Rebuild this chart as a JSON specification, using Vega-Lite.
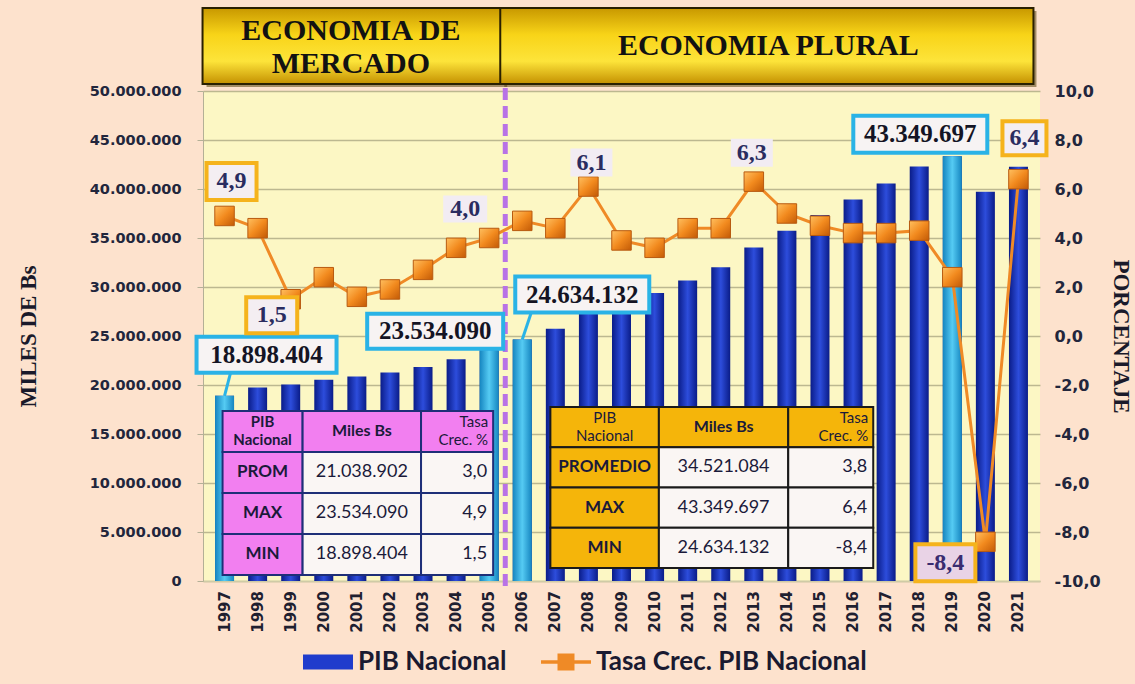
{
  "$schema": "https://vega.github.io/schema/vega-lite/v6.json",
  "width": 837,
  "height": 490,
  "autosize": {"type": "none"},
  "padding": {"left": 203, "top": 91, "right": 95, "bottom": 103},
  "background": "#fde2cd",
  "config": {
    "locale": {"number": {"decimal": ",", "thousands": ".", "grouping": [3], "currency": ["", ""], "minus": "-"}},
    "view": {"fill": "#fcf7c4", "stroke": null},
    "axis": {"labelFont": "DejaVu Sans", "labelFontWeight": "bold", "labelColor": "#22263c", "titleFont": "Liberation Serif", "titleFontWeight": "bold", "titleColor": "#1a1a2a"}
  },
  "datasets": {
    "pib": [
      {"anio": 1997, "periodo": "Economía de Mercado", "pib": 18898404, "tasa": 4.9},
      {"anio": 1998, "periodo": "Economía de Mercado", "pib": 19745210, "tasa": 4.4},
      {"anio": 1999, "periodo": "Economía de Mercado", "pib": 20047830, "tasa": 1.5},
      {"anio": 2000, "periodo": "Economía de Mercado", "pib": 20534150, "tasa": 2.4},
      {"anio": 2001, "periodo": "Economía de Mercado", "pib": 20866320, "tasa": 1.6},
      {"anio": 2002, "periodo": "Economía de Mercado", "pib": 21263480, "tasa": 1.9},
      {"anio": 2003, "periodo": "Economía de Mercado", "pib": 21840650, "tasa": 2.7},
      {"anio": 2004, "periodo": "Economía de Mercado", "pib": 22621530, "tasa": 3.6},
      {"anio": 2005, "periodo": "Economía de Mercado", "pib": 23534090, "tasa": 4.0},
      {"anio": 2006, "periodo": "Economía Plural", "pib": 24634132, "tasa": 4.7},
      {"anio": 2007, "periodo": "Economía Plural", "pib": 25728040, "tasa": 4.4},
      {"anio": 2008, "periodo": "Economía Plural", "pib": 27296840, "tasa": 6.1},
      {"anio": 2009, "periodo": "Economía Plural", "pib": 28361030, "tasa": 3.9},
      {"anio": 2010, "periodo": "Economía Plural", "pib": 29381650, "tasa": 3.6},
      {"anio": 2011, "periodo": "Economía Plural", "pib": 30674000, "tasa": 4.4},
      {"anio": 2012, "periodo": "Economía Plural", "pib": 32023220, "tasa": 4.4},
      {"anio": 2013, "periodo": "Economía Plural", "pib": 34040050, "tasa": 6.3},
      {"anio": 2014, "periodo": "Economía Plural", "pib": 35741560, "tasa": 5.0},
      {"anio": 2015, "periodo": "Economía Plural", "pib": 37349480, "tasa": 4.5},
      {"anio": 2016, "periodo": "Economía Plural", "pib": 38917740, "tasa": 4.2},
      {"anio": 2017, "periodo": "Economía Plural", "pib": 40551870, "tasa": 4.2},
      {"anio": 2018, "periodo": "Economía Plural", "pib": 42295170, "tasa": 4.3},
      {"anio": 2019, "periodo": "Economía Plural", "pib": 43349697, "tasa": 2.4},
      {"anio": 2020, "periodo": "Economía Plural", "pib": 39717320, "tasa": -8.4},
      {"anio": 2021, "periodo": "Economía Plural", "pib": 42258590, "tasa": 6.4}
    ],
    "periodos": [
      {"titulo": ["ECONOMIA DE", "MERCADO"], "desde": 1997, "hasta": 2005},
      {"titulo": "ECONOMIA PLURAL", "desde": 2006, "hasta": 2021}
    ],
    "mercado": [
      {"fila": "h", "c1": ["PIB", "Nacional"], "c2": "Miles Bs", "c3": ["Tasa", "Crec. %"]},
      {"fila": "PROM", "c1": "PROM", "c2": "21.038.902", "c3": "3,0"},
      {"fila": "MAX", "c1": "MAX", "c2": "23.534.090", "c3": "4,9"},
      {"fila": "MIN", "c1": "MIN", "c2": "18.898.404", "c3": "1,5"}
    ],
    "plural": [
      {"fila": "h", "c1": ["PIB", "Nacional"], "c2": "Miles Bs", "c3": ["Tasa", "Crec. %"]},
      {"fila": "PROMEDIO", "c1": "PROMEDIO", "c2": "34.521.084", "c3": "3,8"},
      {"fila": "MAX", "c1": "MAX", "c2": "43.349.697", "c3": "6,4"},
      {"fila": "MIN", "c1": "MIN", "c2": "24.634.132", "c3": "-8,4"}
    ]
  },
  "layer": [
    {
      "data": {"name": "pib"},
      "layer": [
        {
          "mark": {"type": "bar", "orient": "vertical", "width": 19,
            "fill": {"gradient": "linear", "x1": 0, "y1": 0, "x2": 1, "y2": 0, "stops": [{"offset": 0, "color": "#0a1c88"}, {"offset": 0.5, "color": "#2d4ddc"}, {"offset": 1, "color": "#0a1c88"}]}},
          "encoding": {
            "x": {"field": "anio", "type": "quantitative", "scale": {"domain": [1996.5, 2021.5], "nice": false, "zero": false},
              "axis": {"values": [1997,1998,1999,2000,2001,2002,2003,2004,2005,2006,2007,2008,2009,2010,2011,2012,2013,2014,2015,2016,2017,2018,2019,2020,2021], "labels": false, "title": null, "grid": false, "ticks": false, "domainColor": "#cfcba6", "domainWidth": 1.5}},
            "y": {"field": "pib", "type": "quantitative", "scale": {"domain": [0, 50000000], "nice": false},
              "axis": {"title": "MILES DE Bs", "format": ",.0f", "values": [0,5000000,10000000,15000000,20000000,25000000,30000000,35000000,40000000,45000000,50000000], "grid": true, "gridColor": "#bcb890", "gridWidth": 1.5, "ticks": true, "tickSize": 6, "tickColor": "#b4b096", "domain": true, "domainColor": "#b4b096", "labelPadding": 16, "labelFontSize": 14.5, "titleFontSize": 23, "titleX": -175, "titleBaseline": "middle"}}
          }
        },
        {
          "mark": {"type": "text", "angle": 270, "align": "right", "baseline": "middle", "yOffset": 10, "font": "DejaVu Sans", "fontWeight": "bold", "fontSize": 15, "color": "#1f2030"},
          "encoding": {
            "x": {"field": "anio", "type": "quantitative"},
            "y": {"datum": 0, "type": "quantitative"},
            "text": {"field": "anio", "type": "quantitative", "format": "d"}
          }
        },
        {
          "transform": [
            {"joinaggregate": [{"op": "max", "field": "pib", "as": "pmax"}, {"op": "min", "field": "pib", "as": "pmin"}], "groupby": ["periodo"]},
            {"filter": "datum.pib === datum.pmax || datum.pib === datum.pmin"}
          ],
          "mark": {"type": "bar", "orient": "vertical", "width": 19,
            "fill": {"gradient": "linear", "x1": 0, "y1": 0, "x2": 1, "y2": 0, "stops": [{"offset": 0, "color": "#1585c0"}, {"offset": 0.5, "color": "#55cbf3"}, {"offset": 1, "color": "#1585c0"}]}},
          "encoding": {
            "x": {"field": "anio", "type": "quantitative"},
            "y": {"field": "pib", "type": "quantitative"}
          }
        },
        {
          "data": {"name": "periodos"},
          "transform": [{"filter": "datum.desde === 2006"}],
          "mark": {"type": "rule", "color": "#b872e6", "strokeWidth": 5, "strokeDash": [12, 6], "xOffset": -17},
          "encoding": {
            "x": {"field": "desde", "type": "quantitative"},
            "y": {"datum": 50300000, "type": "quantitative"},
            "y2": {"datum": -600000}
          }
        },
        {
          "data": {"name": "periodos"},
          "mark": {"type": "rect", "xOffset": -18, "x2Offset": 18, "yOffset": 3, "y2Offset": 3, "fill": "#5a4610", "opacity": 0.55},
          "encoding": {
            "x": {"field": "desde", "type": "quantitative"},
            "x2": {"field": "hasta"},
            "y": {"datum": 50710000, "type": "quantitative"},
            "y2": {"datum": 58470000}
          }
        },
        {
          "data": {"name": "periodos"},
          "mark": {"type": "rect", "xOffset": -22, "x2Offset": 15, "stroke": "#2a2000", "strokeWidth": 2,
            "fill": {"gradient": "linear", "x1": 0, "y1": 0, "x2": 0, "y2": 1, "stops": [{"offset": 0, "color": "#c89800"}, {"offset": 0.35, "color": "#f8d418"}, {"offset": 0.7, "color": "#fde43a"}, {"offset": 1, "color": "#c49000"}]}},
          "encoding": {
            "x": {"field": "desde", "type": "quantitative"},
            "x2": {"field": "hasta"},
            "y": {"datum": 50710000, "type": "quantitative"},
            "y2": {"datum": 58470000}
          }
        },
        {
          "data": {"name": "periodos"},
          "transform": [{"calculate": "(datum.desde + datum.hasta) / 2", "as": "centro"}, {"filter": "datum.desde === 1997"}],
          "mark": {"type": "text", "font": "Liberation Serif", "fontWeight": "bold", "fontSize": 30, "color": "#121212", "lineHeight": 33, "align": "center", "baseline": "middle", "xOffset": -6, "dy": -16},
          "encoding": {
            "x": {"field": "centro", "type": "quantitative"},
            "y": {"datum": 54540000, "type": "quantitative"},
            "text": {"field": "titulo", "type": "nominal"}
          }
        },
        {
          "data": {"name": "periodos"},
          "transform": [{"calculate": "(datum.desde + datum.hasta) / 2", "as": "centro"}, {"filter": "datum.desde === 2006"}],
          "mark": {"type": "text", "font": "Liberation Serif", "fontWeight": "bold", "fontSize": 30, "color": "#121212", "align": "center", "baseline": "middle", "xOffset": -2},
          "encoding": {
            "x": {"field": "centro", "type": "quantitative"},
            "y": {"datum": 54640000, "type": "quantitative"},
            "text": {"field": "titulo", "type": "nominal"}
          }
        },
        {
          "transform": [{"filter": "datum.anio === 1997"}],
          "encoding": {"x": {"field": "anio", "type": "quantitative"}, "y": {"field": "pib", "type": "quantitative"}},
          "layer": [
            {"mark": {"type": "rule", "x2Offset": 6, "y2Offset": -23, "color": "#2ab3e6", "strokeWidth": 3}, "encoding": {"x2": {"field": "anio"}, "y2": {"field": "pib"}}},
            {"mark": {"type": "rect", "xOffset": -28, "x2Offset": 112, "yOffset": -59, "y2Offset": -23, "fill": "#f7f3f3", "stroke": "#2ab3e6", "strokeWidth": 4}, "encoding": {"x2": {"field": "anio"}, "y2": {"field": "pib"}}},
            {"mark": {"type": "text", "dx": 42, "dy": -41, "font": "Liberation Serif", "fontWeight": "bold", "fontSize": 25, "color": "#141424", "baseline": "middle"}, "encoding": {"text": {"field": "pib", "type": "quantitative", "format": ",.0f"}}}
          ]
        },
        {
          "transform": [{"filter": "datum.anio === 2005"}],
          "encoding": {"x": {"field": "anio", "type": "quantitative"}, "y": {"field": "pib", "type": "quantitative"}},
          "layer": [
            {"mark": {"type": "rect", "xOffset": -122, "x2Offset": 14, "yOffset": -36.5, "y2Offset": -1.5, "fill": "#f7f3f3", "stroke": "#2ab3e6", "strokeWidth": 4}, "encoding": {"x2": {"field": "anio"}, "y2": {"field": "pib"}}},
            {"mark": {"type": "text", "dx": -54, "dy": -19, "font": "Liberation Serif", "fontWeight": "bold", "fontSize": 25, "color": "#141424", "baseline": "middle"}, "encoding": {"text": {"field": "pib", "type": "quantitative", "format": ",.0f"}}}
          ]
        },
        {
          "transform": [{"filter": "datum.anio === 2006"}],
          "encoding": {"x": {"field": "anio", "type": "quantitative"}, "y": {"field": "pib", "type": "quantitative"}},
          "layer": [
            {"mark": {"type": "rule", "x2Offset": 9, "y2Offset": -27, "color": "#2ab3e6", "strokeWidth": 3}, "encoding": {"x2": {"field": "anio"}, "y2": {"field": "pib"}}},
            {"mark": {"type": "rect", "xOffset": -7, "x2Offset": 127, "yOffset": -63, "y2Offset": -27, "fill": "#f7f3f3", "stroke": "#2ab3e6", "strokeWidth": 4}, "encoding": {"x2": {"field": "anio"}, "y2": {"field": "pib"}}},
            {"mark": {"type": "text", "dx": 60, "dy": -45, "font": "Liberation Serif", "fontWeight": "bold", "fontSize": 25, "color": "#141424", "baseline": "middle"}, "encoding": {"text": {"field": "pib", "type": "quantitative", "format": ",.0f"}}}
          ]
        },
        {
          "transform": [{"filter": "datum.anio === 2019"}],
          "encoding": {"x": {"field": "anio", "type": "quantitative"}, "y": {"field": "pib", "type": "quantitative"}},
          "layer": [
            {"mark": {"type": "rect", "xOffset": -99, "x2Offset": 35, "yOffset": -40.5, "y2Offset": -3.5, "fill": "#f7f3f3", "stroke": "#2ab3e6", "strokeWidth": 4}, "encoding": {"x2": {"field": "anio"}, "y2": {"field": "pib"}}},
            {"mark": {"type": "text", "dx": -32, "dy": -22, "font": "Liberation Serif", "fontWeight": "bold", "fontSize": 25, "color": "#141424", "baseline": "middle"}, "encoding": {"text": {"field": "pib", "type": "quantitative", "format": ",.0f"}}}
          ]
        }
      ]
    },
    {
      "data": {"name": "pib"},
      "layer": [
        {
          "mark": {"type": "line", "strokeWidth": 3},
          "encoding": {
            "x": {"field": "anio", "type": "quantitative"},
            "y": {"field": "tasa", "type": "quantitative", "scale": {"domain": [-10, 10], "nice": false, "zero": false},
              "axis": {"orient": "right", "title": "PORCENTAJE", "format": ".1f", "values": [-10,-8,-6,-4,-2,0,2,4,6,8,10], "grid": false, "ticks": false, "domain": false, "labelPadding": 14, "labelFontSize": 16, "titleFontSize": 23, "titleX": 80, "titleBaseline": "middle"}},
            "color": {"datum": "Tasa Crec. PIB Nacional", "type": "nominal",
              "scale": {"domain": ["PIB Nacional", "Tasa Crec. PIB Nacional"], "range": ["#1f3ccc", "#ef8a26"]},
              "legend": {"orient": "none", "legendX": 100, "legendY": 546, "direction": "horizontal", "title": null, "padding": 0,
                "symbolSize": 2500, "symbolStrokeWidth": 0, "labelFont": "Lato", "labelFontWeight": "bold", "labelFontSize": 26, "labelColor": "#1a1a30", "labelLimit": 400, "labelOffset": 5, "columnPadding": 34,
                "encode": {"symbols": {"update": {
                  "shape": {"signal": "datum.value === 'PIB Nacional' ? 'M-1,-0.3H1V0.3H-1Z' : 'M-1,-0.07H-0.34V-0.34H0.34V-0.07H1V0.07H0.34V0.34H-0.34V0.07H-1Z'"},
                  "fill": {"signal": "datum.value === 'PIB Nacional' ? '#1f3ccc' : '#ef8a26'"},
                  "stroke": {"value": "transparent"},
                  "opacity": {"value": 1}
                }}}}}
          }
        },
        {
          "mark": {"type": "point", "shape": "square", "size": 380, "filled": true, "opacity": 1, "stroke": "#b85a10", "strokeWidth": 1,
            "fill": {"gradient": "linear", "x1": 0, "y1": 0, "x2": 1, "y2": 1, "stops": [{"offset": 0, "color": "#ffc060"}, {"offset": 0.5, "color": "#f28a1e"}, {"offset": 1, "color": "#c25a06"}]}},
          "encoding": {
            "x": {"field": "anio", "type": "quantitative"},
            "y": {"field": "tasa", "type": "quantitative"}
          }
        },
        {
          "transform": [{"filter": "datum.anio === 1997"}],
          "encoding": {"x": {"field": "anio", "type": "quantitative"}, "y": {"field": "tasa", "type": "quantitative"}},
          "layer": [
            {"mark": {"type": "rect", "xOffset": -18, "x2Offset": 32, "yOffset": -53, "y2Offset": -16, "fill": "#f4eef2", "stroke": "#f5b31c", "strokeWidth": 4}, "encoding": {"x2": {"field": "anio"}, "y2": {"field": "tasa"}}},
            {"mark": {"type": "text", "dx": 7, "dy": -34.5, "font": "Liberation Serif", "fontWeight": "bold", "fontSize": 24, "color": "#2a2c60", "baseline": "middle"}, "encoding": {"text": {"field": "tasa", "type": "quantitative", "format": ".1f"}}}
          ]
        },
        {
          "transform": [{"filter": "datum.anio === 1999"}],
          "encoding": {"x": {"field": "anio", "type": "quantitative"}, "y": {"field": "tasa", "type": "quantitative"}},
          "layer": [
            {"mark": {"type": "rect", "xOffset": -44.5, "x2Offset": 6.5, "yOffset": -2, "y2Offset": 34, "fill": "#f4eef2", "stroke": "#f5b31c", "strokeWidth": 4}, "encoding": {"x2": {"field": "anio"}, "y2": {"field": "tasa"}}},
            {"mark": {"type": "text", "dx": -19, "dy": 16, "font": "Liberation Serif", "fontWeight": "bold", "fontSize": 24, "color": "#2a2c60", "baseline": "middle"}, "encoding": {"text": {"field": "tasa", "type": "quantitative", "format": ".1f"}}}
          ]
        },
        {
          "transform": [{"filter": "datum.anio === 2005"}],
          "encoding": {"x": {"field": "anio", "type": "quantitative"}, "y": {"field": "tasa", "type": "quantitative"}},
          "layer": [
            {"mark": {"type": "rect", "xOffset": -46, "x2Offset": -2, "yOffset": -42.5, "y2Offset": -15.5, "fill": "#f2ecf3"}, "encoding": {"x2": {"field": "anio"}, "y2": {"field": "tasa"}}},
            {"mark": {"type": "text", "dx": -24, "dy": -29, "font": "Liberation Serif", "fontWeight": "bold", "fontSize": 24, "color": "#2a2c60", "baseline": "middle"}, "encoding": {"text": {"field": "tasa", "type": "quantitative", "format": ".1f"}}}
          ]
        },
        {
          "transform": [{"filter": "datum.anio === 2008"}],
          "encoding": {"x": {"field": "anio", "type": "quantitative"}, "y": {"field": "tasa", "type": "quantitative"}},
          "layer": [
            {"mark": {"type": "rect", "xOffset": -18, "x2Offset": 24, "yOffset": -38, "y2Offset": -10, "fill": "#f2ecf3"}, "encoding": {"x2": {"field": "anio"}, "y2": {"field": "tasa"}}},
            {"mark": {"type": "text", "dx": 3, "dy": -24, "font": "Liberation Serif", "fontWeight": "bold", "fontSize": 24, "color": "#2a2c60", "baseline": "middle"}, "encoding": {"text": {"field": "tasa", "type": "quantitative", "format": ".1f"}}}
          ]
        },
        {
          "transform": [{"filter": "datum.anio === 2013"}],
          "encoding": {"x": {"field": "anio", "type": "quantitative"}, "y": {"field": "tasa", "type": "quantitative"}},
          "layer": [
            {"mark": {"type": "rect", "xOffset": -23, "x2Offset": 19, "yOffset": -43, "y2Offset": -15, "fill": "#f2ecf3"}, "encoding": {"x2": {"field": "anio"}, "y2": {"field": "tasa"}}},
            {"mark": {"type": "text", "dx": -2, "dy": -29, "font": "Liberation Serif", "fontWeight": "bold", "fontSize": 24, "color": "#2a2c60", "baseline": "middle"}, "encoding": {"text": {"field": "tasa", "type": "quantitative", "format": ".1f"}}}
          ]
        },
        {
          "transform": [{"filter": "datum.anio === 2020"}],
          "encoding": {"x": {"field": "anio", "type": "quantitative"}, "y": {"field": "tasa", "type": "quantitative"}},
          "layer": [
            {"mark": {"type": "rect", "xOffset": -70, "x2Offset": -10, "yOffset": 2.5, "y2Offset": 39.5, "fill": "#e9d3e6", "stroke": "#f5b31c", "strokeWidth": 4}, "encoding": {"x2": {"field": "anio"}, "y2": {"field": "tasa"}}},
            {"mark": {"type": "text", "dx": -40, "dy": 21, "font": "Liberation Serif", "fontWeight": "bold", "fontSize": 24, "color": "#3a2c70", "baseline": "middle"}, "encoding": {"text": {"field": "tasa", "type": "quantitative", "format": ".1f"}}}
          ]
        },
        {
          "transform": [{"filter": "datum.anio === 2021"}],
          "encoding": {"x": {"field": "anio", "type": "quantitative"}, "y": {"field": "tasa", "type": "quantitative"}},
          "layer": [
            {"mark": {"type": "rect", "xOffset": -16, "x2Offset": 28, "yOffset": -58, "y2Offset": -24, "fill": "#f4eef2", "stroke": "#f5b31c", "strokeWidth": 4}, "encoding": {"x2": {"field": "anio"}, "y2": {"field": "tasa"}}},
            {"mark": {"type": "text", "dx": 6, "dy": -41, "font": "Liberation Serif", "fontWeight": "bold", "fontSize": 24, "color": "#2a2c60", "baseline": "middle"}, "encoding": {"text": {"field": "tasa", "type": "quantitative", "format": ".1f"}}}
          ]
        }
      ]
    },
    {
      "data": {"name": "mercado"},
      "encoding": {"y": {"field": "fila", "type": "ordinal", "scale": {"domain": ["_1", "_2", "_3", "_4", "_5", "_6", "_7", "h", "PROM", "MAX", "MIN"], "paddingInner": 0, "paddingOuter": 0.4756, "align": 0.846}, "axis": null}},
      "layer": [
        {"mark": {"type": "rect", "stroke": "#1e2f78", "strokeWidth": 2, "fill": "#f27ff0"}, "encoding": {"x": {"datum": 1996.94, "type": "quantitative"}, "x2": {"datum": 1999.36}}},
        {"mark": {"type": "rect", "stroke": "#1e2f78", "strokeWidth": 2}, "encoding": {"x": {"datum": 1999.36, "type": "quantitative"}, "x2": {"datum": 2002.94}, "fill": {"condition": {"test": "datum.fila === 'h'", "value": "#f27ff0"}, "value": "#faf6f4"}}},
        {"mark": {"type": "rect", "stroke": "#1e2f78", "strokeWidth": 2}, "encoding": {"x": {"datum": 2002.94, "type": "quantitative"}, "x2": {"datum": 2005.12}, "fill": {"condition": {"test": "datum.fila === 'h'", "value": "#f27ff0"}, "value": "#faf6f4"}}},
        {"transform": [{"filter": "datum.fila === 'h'"}], "mark": {"type": "text", "font": "Lato", "fontWeight": "bold", "fontSize": 15, "color": "#1a1a3a", "lineHeight": 18, "baseline": "middle", "dy": -9}, "encoding": {"x": {"datum": 1998.15, "type": "quantitative"}, "text": {"field": "c1", "type": "nominal"}}},
        {"transform": [{"filter": "datum.fila === 'h'"}], "mark": {"type": "text", "font": "Lato", "fontWeight": "bold", "fontSize": 16, "color": "#1a1a3a", "baseline": "middle"}, "encoding": {"x": {"datum": 2001.15, "type": "quantitative"}, "text": {"field": "c2", "type": "nominal"}}},
        {"transform": [{"filter": "datum.fila === 'h'"}], "mark": {"type": "text", "font": "Lato", "fontSize": 15, "color": "#1a1a3a", "lineHeight": 18, "baseline": "middle", "align": "right", "dx": -5, "dy": -9}, "encoding": {"x": {"datum": 2005.12, "type": "quantitative"}, "text": {"field": "c3", "type": "nominal"}}},
        {"transform": [{"filter": "datum.fila !== 'h'"}], "mark": {"type": "text", "font": "Lato", "fontWeight": "bold", "fontSize": 17, "color": "#1a1a3a", "baseline": "middle"}, "encoding": {"x": {"datum": 1998.15, "type": "quantitative"}, "text": {"field": "c1", "type": "nominal"}}},
        {"transform": [{"filter": "datum.fila !== 'h'"}], "mark": {"type": "text", "font": "Lato", "fontSize": 18, "color": "#1a1a3a", "baseline": "middle"}, "encoding": {"x": {"datum": 2001.15, "type": "quantitative"}, "text": {"field": "c2", "type": "nominal"}}},
        {"transform": [{"filter": "datum.fila !== 'h'"}], "mark": {"type": "text", "font": "Lato", "fontSize": 18, "color": "#1a1a3a", "baseline": "middle", "align": "right", "dx": -6}, "encoding": {"x": {"datum": 2005.12, "type": "quantitative"}, "text": {"field": "c3", "type": "nominal"}}}
      ]
    },
    {
      "data": {"name": "plural"},
      "encoding": {"y": {"field": "fila", "type": "ordinal", "scale": {"domain": ["_1", "_2", "_3", "_4", "_5", "_6", "_7", "h", "PROMEDIO", "MAX", "MIN"], "paddingInner": 0, "paddingOuter": 0.587, "align": 0.725}, "axis": null}},
      "layer": [
        {"mark": {"type": "rect", "stroke": "#1a1a1a", "strokeWidth": 2, "fill": "#f5b50a"}, "encoding": {"x": {"datum": 2006.85, "type": "quantitative"}, "x2": {"datum": 2010.13}}},
        {"mark": {"type": "rect", "stroke": "#1a1a1a", "strokeWidth": 2}, "encoding": {"x": {"datum": 2010.13, "type": "quantitative"}, "x2": {"datum": 2014.04}, "fill": {"condition": {"test": "datum.fila === 'h'", "value": "#f5b50a"}, "value": "#faf6f4"}}},
        {"mark": {"type": "rect", "stroke": "#1a1a1a", "strokeWidth": 2}, "encoding": {"x": {"datum": 2014.04, "type": "quantitative"}, "x2": {"datum": 2016.61}, "fill": {"condition": {"test": "datum.fila === 'h'", "value": "#f5b50a"}, "value": "#faf6f4"}}},
        {"transform": [{"filter": "datum.fila === 'h'"}], "mark": {"type": "text", "font": "Lato", "fontSize": 15, "color": "#1a1a3a", "lineHeight": 18, "baseline": "middle", "dy": -9}, "encoding": {"x": {"datum": 2008.49, "type": "quantitative"}, "text": {"field": "c1", "type": "nominal"}}},
        {"transform": [{"filter": "datum.fila === 'h'"}], "mark": {"type": "text", "font": "Lato", "fontWeight": "bold", "fontSize": 16, "color": "#1a1a3a", "baseline": "middle"}, "encoding": {"x": {"datum": 2012.085, "type": "quantitative"}, "text": {"field": "c2", "type": "nominal"}}},
        {"transform": [{"filter": "datum.fila === 'h'"}], "mark": {"type": "text", "font": "Lato", "fontSize": 15, "color": "#1a1a3a", "lineHeight": 18, "baseline": "middle", "align": "right", "dx": -5, "dy": -9}, "encoding": {"x": {"datum": 2016.61, "type": "quantitative"}, "text": {"field": "c3", "type": "nominal"}}},
        {"transform": [{"filter": "datum.fila !== 'h'"}], "mark": {"type": "text", "font": "Lato", "fontWeight": "bold", "fontSize": 17, "color": "#1a1a3a", "baseline": "middle"}, "encoding": {"x": {"datum": 2008.49, "type": "quantitative"}, "text": {"field": "c1", "type": "nominal"}}},
        {"transform": [{"filter": "datum.fila !== 'h'"}], "mark": {"type": "text", "font": "Lato", "fontSize": 18, "color": "#1a1a3a", "baseline": "middle"}, "encoding": {"x": {"datum": 2012.085, "type": "quantitative"}, "text": {"field": "c2", "type": "nominal"}}},
        {"transform": [{"filter": "datum.fila !== 'h'"}], "mark": {"type": "text", "font": "Lato", "fontSize": 18, "color": "#1a1a3a", "baseline": "middle", "align": "right", "dx": -6}, "encoding": {"x": {"datum": 2016.61, "type": "quantitative"}, "text": {"field": "c3", "type": "nominal"}}}
      ]
    }
  ],
  "resolve": {"scale": {"y": "independent"}}
}
